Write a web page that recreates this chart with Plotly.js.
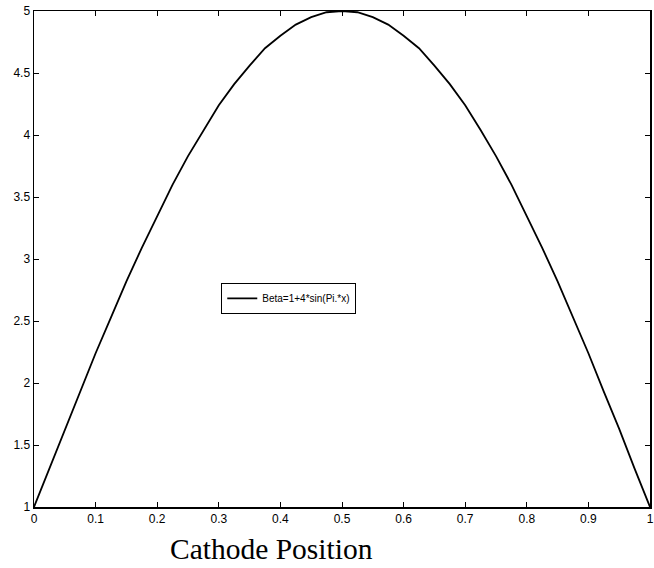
<!DOCTYPE html>
<html>
<head>
<meta charset="utf-8">
<script src="https://cdn.plot.ly/plotly-3.0.1.min.js"></script>
<style>html,body{margin:0;padding:0;background:#fff;}</style>
</head>
<body>
<div id="chart" style="width:654px;height:568px;"></div>
<script>
// Cathode position (x) and Beta values
const xPos = [0, 0.025, 0.05, 0.075, 0.1, 0.125, 0.15, 0.175, 0.2, 0.225, 0.25, 0.275, 0.3, 0.325, 0.35, 0.375, 0.4, 0.425, 0.45, 0.475, 0.5,
              0.525, 0.55, 0.575, 0.6, 0.625, 0.65, 0.675, 0.7, 0.725, 0.75, 0.775, 0.8, 0.825, 0.85, 0.875, 0.9, 0.925, 0.95, 0.975, 1];
const beta = [1, 1.31, 1.63, 1.93, 2.24, 2.53, 2.82, 3.09, 3.35, 3.6, 3.83, 4.04, 4.24, 4.41, 4.56, 4.7, 4.8, 4.89, 4.95, 4.99, 5,
              4.99, 4.95, 4.89, 4.8, 4.7, 4.56, 4.41, 4.24, 4.04, 3.83, 3.6, 3.35, 3.09, 2.82, 2.53, 2.24, 1.93, 1.63, 1.31, 1];
const seriesName = 'Beta=1+4*sin(Pi.*x)';
const xTicks = [0, 0.1, 0.2, 0.3, 0.4, 0.5, 0.6, 0.7, 0.8, 0.9, 1];
const xTickText = ['0', '0.1', '0.2', '0.3', '0.4', '0.5', '0.6', '0.7', '0.8', '0.9', '1'];
const yTicks = [1, 1.5, 2, 2.5, 3, 3.5, 4, 4.5, 5];
const yTickText = ['1', '1.5', '2', '2.5', '3', '3.5', '4', '4.5', '5'];
const xTitle = 'Cathode Position';

const trace = {
  x: xPos, y: beta, type: 'scatter', mode: 'lines', name: seriesName,
  line: {color: '#000', width: 1.8, shape: 'linear'}, showlegend: true
};

const axisCommon = {
  showgrid: false, zeroline: false, showline: true, linecolor: '#000', linewidth: 1.5,
  mirror: 'ticks', ticks: 'inside', ticklen: 5, tickwidth: 1, tickcolor: '#000',
  tickfont: {family: 'Liberation Sans, Arial, sans-serif', size: 12, color: '#000'}
};

const layout = {
  width: 654, height: 568,
  margin: {l: 34, r: 4, t: 11, b: 61},
  paper_bgcolor: '#fff', plot_bgcolor: '#fff',
  xaxis: Object.assign({}, axisCommon, {range: [0, 1], tickvals: xTicks, ticktext: xTickText}),
  yaxis: Object.assign({}, axisCommon, {range: [1, 5], tickvals: yTicks, ticktext: yTickText}),
  showlegend: true,
  legend: {
    x: 0.304, y: 0.452, xanchor: 'left', yanchor: 'top',
    bgcolor: '#fff', bordercolor: '#000', borderwidth: 1,
    font: {family: 'Liberation Sans, Arial, sans-serif', size: 10, color: '#000'},
    itemwidth: 30, tracegroupgap: 0
  },
  annotations: [{
    text: xTitle, xref: 'paper', yref: 'paper', x: 0.385, y: -0.085,
    xanchor: 'center', yanchor: 'middle', showarrow: false,
    font: {family: 'Liberation Serif, Times New Roman, serif', size: 29.5, color: '#000'}
  }]
};

Plotly.newPlot('chart', [trace], layout, {displayModeBar: false, staticPlot: true});
</script>
</body>
</html>
